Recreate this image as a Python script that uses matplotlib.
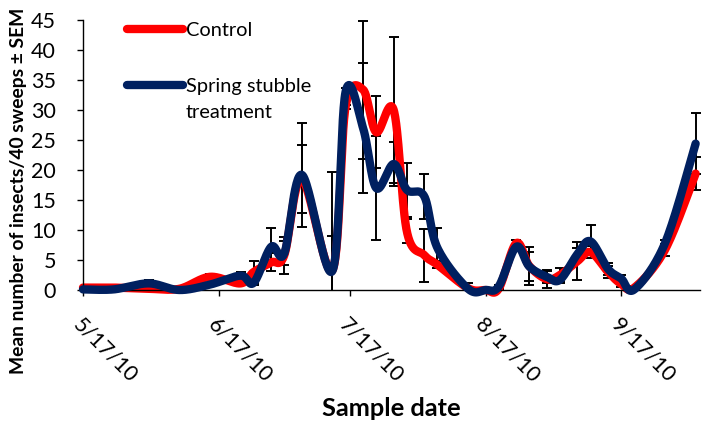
import numpy as np
import pandas as pd
import matplotlib
matplotlib.use("Agg")
import matplotlib.pyplot as plt
import matplotlib.dates as mdates

dates = ["2010-05-17", "2010-05-24", "2010-06-01", "2010-06-08", "2010-06-15",
         "2010-06-22", "2010-06-25", "2010-06-29", "2010-07-02", "2010-07-06",
         "2010-07-13", "2010-07-16", "2010-07-20", "2010-07-23", "2010-07-27",
         "2010-07-30", "2010-08-03", "2010-08-06", "2010-08-13", "2010-08-17",
         "2010-08-20", "2010-08-24", "2010-08-27", "2010-08-31", "2010-09-03",
         "2010-09-07", "2010-09-10", "2010-09-14", "2010-09-17", "2010-09-20",
         "2010-09-27", "2010-10-04"]
control = [0.4, 0.4, 0.2, 0.2, 2.2, 1.1, 3.0, 4.6, 5.8, 18.5,
           3.3, 30.5, 33.4, 26.3, 30.0, 9.8, 5.8, 4.2, 0.3, 0.0,
           0.2, 7.8, 4.0, 1.8, 2.5, 4.8, 6.3, 3.0, 1.0, 0.4,
           6.7, 19.4]
control_sem = [0.2, 0.2, 0.2, 0.1, 0.4, 0.3, 1.9, 1.5, 3.1, 5.7,
               16.4, 0.4, 11.5, 6.0, 12.2, 2.0, 4.4, 0.6, 0.9, 0.0,
               0.1, 0.5, 3.1, 1.5, 1.1, 3.2, 1.0, 1.0, 0.5, 0.2,
               1.0, 2.7]
spring = [0.1, 0.1, 1.1, 0.0, 0.9, 2.4, 1.2, 7.2, 6.1, 19.2,
          3.2, 33.0, 27.0, 17.0, 21.0, 16.7, 15.6, 7.0, 0.2, 0.0,
          0.6, 7.2, 3.9, 2.2, 1.7, 6.0, 8.1, 3.5, 1.9, 0.1,
          7.8, 24.4]
spring_sem = [0.1, 0.1, 0.5, 0.0, 0.3, 0.6, 0.4, 3.1, 2.0, 8.7,
              5.8, 0.6, 10.9, 8.7, 3.7, 4.5, 3.8, 3.4, 0.3, 0.0,
              0.2, 0.4, 2.4, 1.0, 0.5, 1.0, 2.7, 1.0, 0.6, 0.1,
              0.6, 5.1]
tick_dates = ["2010-05-17", "2010-06-17", "2010-07-17", "2010-08-17", "2010-09-17"]
tick_labels = ["5/17/10", "6/17/10", "7/17/10", "8/17/10", "9/17/10"]

plt.rcParams["font.family"] = ["Lato", "DejaVu Sans"]

W, H = 710, 423
fig = plt.figure(figsize=(W / 100, H / 100), dpi=100)
ax = fig.add_axes([83 / W, (H - 290) / H, (700 - 83) / W, 270 / H])

x = mdates.date2num(pd.to_datetime(dates))
x0 = mdates.date2num(pd.Timestamp("2010-05-17"))
x1 = mdates.date2num(pd.Timestamp("2010-10-05"))
ax.set_xlim(x0, x1)
ax.set_ylim(0, 45)

# pixel scale, so the smoothing behaves like Excel's (done in screen space)
sx = (700 - 83) / (x1 - x0)
sy = 270 / 45


def smooth(xs, ys, n=30):
    P = np.column_stack([np.asarray(xs) * sx, np.asarray(ys) * sy])
    P = np.vstack([P[0], P, P[-1]])
    out = []
    t = np.linspace(0, 1, n)[:, None]
    for i in range(1, len(P) - 2):
        p0, p1, p2, p3 = P[i - 1], P[i], P[i + 1], P[i + 2]
        c1 = p1 + (p2 - p0) / 6
        c2 = p2 - (p3 - p1) / 6
        seg = ((1 - t) ** 3 * p1 + 3 * (1 - t) ** 2 * t * c1
               + 3 * (1 - t) * t ** 2 * c2 + t ** 3 * p2)
        out.append(seg)
    out = np.vstack(out)
    return out[:, 0] / sx, out[:, 1] / sy


ekw = dict(fmt="none", ecolor="black", elinewidth=1.4, capsize=3.6, capthick=1.4, zorder=1)
ax.errorbar(x, control, yerr=control_sem, **ekw)
ax.errorbar(x, spring, yerr=spring_sem, **ekw)

cx, cy = smooth(x, control)
bx, by = smooth(x, spring)
ax.plot(cx, cy, color="#FF0000", lw=6, solid_capstyle="round", zorder=2,
        clip_on=False, label="Control")
ax.plot(bx, by, color="#002060", lw=6, solid_capstyle="round", zorder=3,
        clip_on=False, label="Spring stubble")

ax.set_yticks(range(0, 46, 5))
ax.set_xticks(mdates.date2num(pd.to_datetime(tick_dates)))
ax.set_xticklabels(tick_labels, rotation=-45, ha="left", va="top",
                   rotation_mode="anchor")
ax.tick_params(axis="both", direction="out", length=4.5, width=1, labelsize=15.5,
               colors="black")
ax.tick_params(axis="x", pad=13)
ax.tick_params(axis="y", pad=15)
for s in ["top", "right"]:
    ax.spines[s].set_visible(False)
for s in ["left", "bottom"]:
    ax.spines[s].set_linewidth(1)

fig.text(19 / W, 1 - 191 / H, "Mean number of insects/40 sweeps \u00b1 SEM",
         rotation=90, ha="center", va="center", fontsize=13.9, fontweight="bold")
fig.text(391 / W, 1 - 408 / H, "Sample date", ha="center", va="center",
         fontsize=18.3, fontweight="bold")

leg = ax.legend(loc="upper left", bbox_to_anchor=(127 / W, 1 - 22 / H),
                bbox_transform=fig.transFigure, frameon=False, fontsize=14.4,
                handlelength=2.8, handletextpad=0.15, labelspacing=1.95,
                borderpad=0, borderaxespad=0)
# second line of the blue legend label sits under the first
fig.text(186 / W, 1 - 112 / H, "treatment", ha="left", va="center", fontsize=14.4)

fig.savefig("out.png", dpi=100)
